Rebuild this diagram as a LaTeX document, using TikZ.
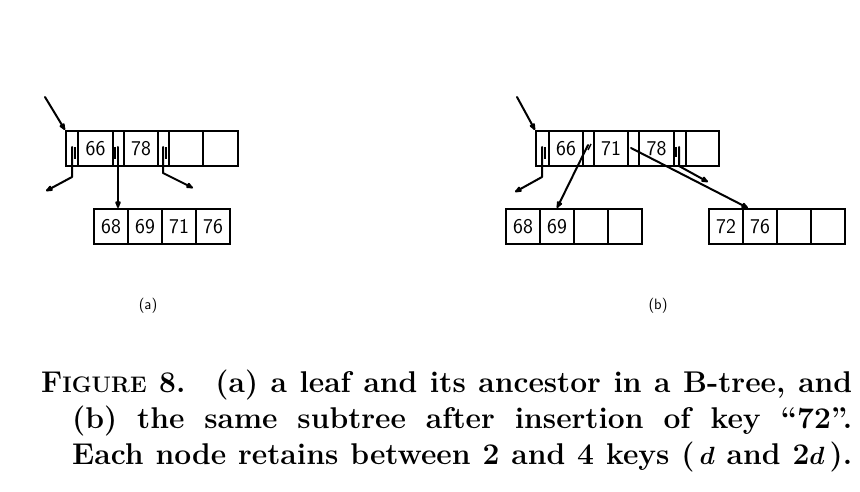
\documentclass[tikz,border=0pt]{standalone}
\usetikzlibrary{arrows.meta,calc}
\begin{document}
\begin{tikzpicture}[x=1pt,y=-1pt,
  cellbox/.style={draw, line width=2pt, minimum height=35pt, inner sep=0pt,
    anchor=north west, font=\sffamily\fontsize{21}{21}\selectfont},
  ptr/.style={line width=2pt, line cap=round, line join=round},
  blob/.style={-{Latex[length=10pt,width=7pt,round]}},
  tick/.style={line width=1.4pt},
  lab/.style={font=\sffamily\fontsize{15}{15}\selectfont, inner sep=0pt},
  captxt/.style={anchor=base west, inner sep=0pt,
    font=\bfseries\boldmath\fontsize{30}{36}\selectfont}]
\useasboundingbox[fill=white] (0,0) rectangle (860,492);

% ---------------- (a) ----------------
\node[cellbox, minimum width=12pt] (ap0) at (65,130) {};
\node[cellbox, minimum width=35pt] (a66) at (77,130) {66};
\node[cellbox, minimum width=11pt] (ap1) at (112,130) {};
\node[cellbox, minimum width=34pt] (a78) at (123,130) {78};
\node[cellbox, minimum width=11pt] (ap2) at (157,130) {};
\node[cellbox, minimum width=34pt] (ak3) at (168,130) {};
\node[cellbox, minimum width=35pt] (ak4) at (202,130) {};

\node[cellbox, minimum width=34pt] (a68) at (93,208) {68};
\node[cellbox, minimum width=34pt] (a69) at (127,208) {69};
\node[cellbox, minimum width=34pt] (a71) at (161,208) {71};
\node[cellbox, minimum width=34pt] (a76) at (195,208) {76};

\coordinate (ain) at (45,97);
\coordinate (ap0s) at (72,147);
\coordinate (ap1s) at (118,147);
\coordinate (ap2s) at (163,147);
\coordinate (aL) at (46,191);
\coordinate (aR) at (193,188);

\draw[ptr,blob] (ain) -- (ap0.north west);
\draw[ptr,blob] (ap0s) -- ++(0,30) -- (aL);
\draw[ptr,blob] (ap1s) -- (ap1s |- a68.north);
\draw[ptr,blob] (ap2s) -- ++(0,26) -- (aR);
\draw[tick] ($(ap0s)+(3,0)$) -- ++(0,12);
\draw[tick] ($(ap1s)+(-3,0)$) -- ++(0,12);
\draw[tick] ($(ap2s)+(3,0)$) -- ++(0,12);

\node[lab] (la) at (148,306) {(a)};

% ---------------- (b) ----------------
\node[cellbox, minimum width=13pt] (bp0) at (535,130) {};
\node[cellbox, minimum width=34pt] (b66) at (548,130) {66};
\node[cellbox, minimum width=11pt] (bp1) at (582,130) {};
\node[cellbox, minimum width=34pt] (b71) at (593,130) {71};
\node[cellbox, minimum width=11pt] (bp2) at (627,130) {};
\node[cellbox, minimum width=35pt] (b78) at (638,130) {78};
\node[cellbox, minimum width=12pt] (bp3) at (673,130) {};
\node[cellbox, minimum width=33pt] (bk4) at (685,130) {};

\node[cellbox, minimum width=34pt] (b68) at (505,208) {68};
\node[cellbox, minimum width=34pt] (b69) at (539,208) {69};
\node[cellbox, minimum width=34pt] (bk3) at (573,208) {};
\node[cellbox, minimum width=34pt] (bk4l) at (607,208) {};

\node[cellbox, minimum width=34pt] (b72) at (708,208) {72};
\node[cellbox, minimum width=34pt] (b76) at (742,208) {76};
\node[cellbox, minimum width=34pt] (bk3r) at (776,208) {};
\node[cellbox, minimum width=34pt] (bk4r) at (810,208) {};

\coordinate (bin) at (517,97);
\coordinate (bp0s) at (542,147);
\coordinate (bp1s) at (588,145);
\coordinate (bp2s) at (631,148);
\coordinate (bp3s) at (679,147);
\coordinate (bL) at (515,192);
\coordinate (bR) at (708,182);

\draw[ptr,blob] (bin) -- (bp0.north west);
\draw[ptr,blob] (bp0s) -- ++(0,30) -- (bL);
\draw[ptr,blob] (bp1s) -- (b69.north);
\draw[ptr,blob] (bp2s) -- ($(b72.north east)+(4,0)$);
\draw[ptr,blob] (bp3s) -- ++(0,19) -- (bR);
\draw[tick] ($(bp0s)+(3,0)$) -- ++(0,12);
\draw[tick] ($(bp1s)+(3,-1)$) -- ++(-3,6);
\draw[tick] ($(bp3s)+(-3,0)$) -- ++(0,10);

\node[lab] (lb) at (658,306) {(b)};

% ---------------- caption ----------------
\node[captxt] (cap1) at (41,392) {\hbox to 811pt{F{\fontsize{22.5}{22.5}\selectfont IGURE} 8.\quad (a) a leaf and its ancestor in a B-tree, and}};
\node[captxt] (cap2) at (72,428) {\hbox to 780pt{(b) the same subtree after insertion of key ``72''.}};
\node[captxt] (cap3) at (72,464) {\hbox to 780pt{Each node retains between 2 and 4 keys (\,$d$ and 2$d$\,).}};
\end{tikzpicture}
\end{document}
